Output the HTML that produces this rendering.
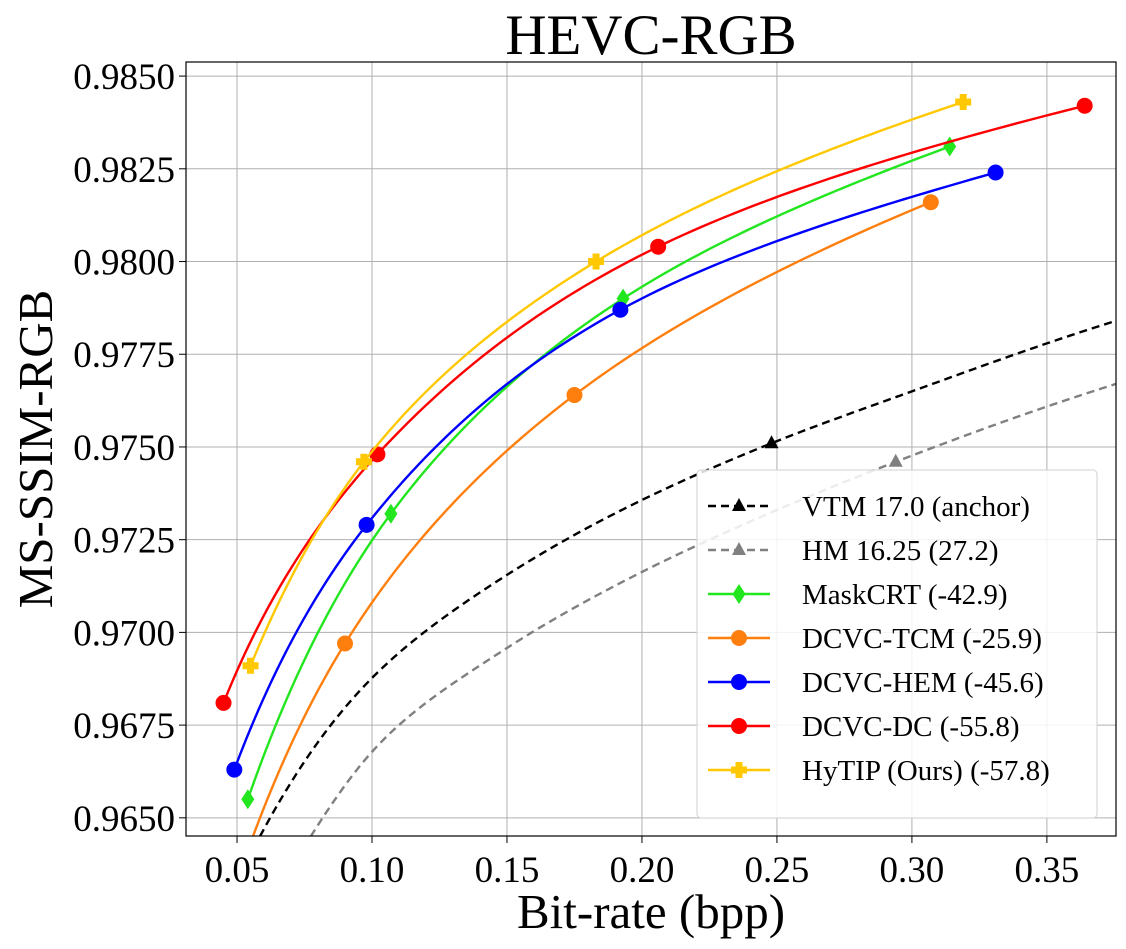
<!DOCTYPE html>
<html><head><meta charset="utf-8"><style>
body{margin:0;background:#fff;}
svg text{font-family:"Liberation Serif",serif;fill:#000;}
</style></head><body>
<svg id="chart" width="1126" height="944" xmlns="http://www.w3.org/2000/svg">
<g id="grid"></g>
<g id="series"></g>
<g id="axes"></g>
<text x="651" y="54" font-size="57" text-anchor="middle">HEVC-RGB</text>
<text x="651" y="928" font-size="49" text-anchor="middle">Bit-rate (bpp)</text>
<text transform="translate(52,449) rotate(-90)" font-size="49" text-anchor="middle">MS-SSIM-RGB</text>
<g id="legend"></g>
</svg>
<script>
const xTicks=[0.05,0.10,0.15,0.20,0.25,0.30,0.35];
const yTicks=[0.9650,0.9675,0.9700,0.9725,0.9750,0.9775,0.9800,0.9825,0.9850];
const seriesNames=["VTM 17.0 (anchor)","HM 16.25 (27.2)","MaskCRT (-42.9)","DCVC-TCM (-25.9)","DCVC-HEM (-45.6)","DCVC-DC (-55.8)","HyTIP (Ours) (-57.8)"];
const vtmX=[0.248]; const vtmY=[0.9751];
const vtmCurveX=[0.0585,0.10,0.15,0.20,0.248,0.30,0.38]; const vtmCurveY=[0.9645,0.96877,0.97155,0.97357,0.9751,0.9765,0.9785];
const hmX=[0.294]; const hmY=[0.9746];
const hmCurveX=[0.0773,0.10,0.15,0.20,0.25,0.294,0.38]; const hmCurveY=[0.9645,0.96678,0.96958,0.97163,0.9733,0.9746,0.9768];
const maskX=[0.054,0.107,0.193,0.314]; const maskY=[0.9655,0.9732,0.9790,0.9831];
const tcmX=[0.090,0.175,0.307]; const tcmY=[0.9697,0.9764,0.9816];
const tcmCurveX=[0.0559,0.090,0.175,0.307]; const tcmCurveY=[0.9645,0.9697,0.9764,0.9816];
const hemX=[0.049,0.098,0.192,0.331]; const hemY=[0.9663,0.9729,0.9787,0.9824];
const dcX=[0.045,0.102,0.206,0.364]; const dcY=[0.9681,0.9748,0.9804,0.9842];
const hyX=[0.055,0.097,0.183,0.319]; const hyY=[0.9691,0.9746,0.9800,0.9843];

const L=186,R=1116,T=62,B=836;
const x0=0.0311,x1=0.3756,y0=0.96451,y1=0.98538;
const sx=v=>L+(v-x0)/(x1-x0)*(R-L);
const sy=v=>B-(v-y0)/(y1-y0)*(B-T);
const NS="http://www.w3.org/2000/svg";
function mk(tag,attrs,parent){const e=document.createElementNS(NS,tag);for(const k in attrs)e.setAttribute(k,attrs[k]);parent.appendChild(e);return e;}
const grid=document.getElementById('grid'),axes=document.getElementById('axes'),ser=document.getElementById('series'),leg=document.getElementById('legend');
xTicks.forEach(t=>{const x=sx(t);
 const g=mk('line',{x1:x,x2:x,y1:T,y2:B,stroke:'#b0b0b0','stroke-width':1},grid);
 
 
 mk('line',{x1:x,x2:x,y1:B,y2:B+7,stroke:'#000','stroke-width':1},axes);
 const tx=mk('text',{x:x,y:B+46,'font-size':37,'text-anchor':'middle'},axes);tx.textContent=t.toFixed(2);
 
 
});
yTicks.forEach(t=>{const y=sy(t);
 const g=mk('line',{x1:L,x2:R,y1:y,y2:y,stroke:'#b0b0b0','stroke-width':1},grid);
 
 
 mk('line',{x1:L-7,x2:L,y1:y,y2:y,stroke:'#000','stroke-width':1},axes);
 const tx=mk('text',{x:L-11,y:y+13,'font-size':37,'text-anchor':'end'},axes);tx.textContent=t.toFixed(4);
 
 
});
mk('rect',{x:L,y:T,width:R-L,height:B-T,fill:'none',stroke:'#000','stroke-width':1.2},axes);

// smooth Hermite curve in log-rate space
function pathD(xd,ys){
 const xs=xd.map(Math.log);
 const n=xs.length,m=[];
 const s=[];for(let i=0;i<n-1;i++)s.push((ys[i+1]-ys[i])/(xs[i+1]-xs[i]));
 for(let i=0;i<n;i++){
  if(i===0)m.push(s[0]);
  else if(i===n-1)m.push(s[n-2]);
  else{const h0=xs[i]-xs[i-1],h1=xs[i+1]-xs[i];m.push((s[i-1]*h1+s[i]*h0)/(h0+h1));}
 }
 let d='M'+sx(xd[0])+','+sy(ys[0]);
 for(let i=0;i<n-1;i++){
  const h=xs[i+1]-xs[i];
  for(let k=1;k<=40;k++){
   const t=k/40,t2=t*t,t3=t2*t;
   const y=(2*t3-3*t2+1)*ys[i]+(t3-2*t2+t)*h*m[i]+(-2*t3+3*t2)*ys[i+1]+(t3-t2)*h*m[i+1];
   d+=' L'+sx(Math.exp(xs[i]+t*h)).toFixed(2)+','+sy(y).toFixed(2);
  }
 }
 return d;
}
function marker(type,x,y,color,parent,s){
 s=s||1;
 if(type==='tri') return mk('polygon',{points:`${x},${y-8*s} ${x-7*s},${y+5*s} ${x+7*s},${y+5*s}`,fill:color},parent);
 if(type==='dia') return mk('polygon',{points:`${x},${y-10*s} ${x-6.5*s},${y} ${x},${y+10*s} ${x+6.5*s},${y}`,fill:color},parent);
 if(type==='circ') return mk('circle',{cx:x,cy:y,r:8*s,fill:color},parent);
 if(type==='plus'){const a=3.5*s,b=8*s;return mk('polygon',{points:`${x-a},${y-b} ${x+a},${y-b} ${x+a},${y-a} ${x+b},${y-a} ${x+b},${y+a} ${x+a},${y+a} ${x+a},${y+b} ${x-a},${y+b} ${x-a},${y+a} ${x-b},${y+a} ${x-b},${y-a} ${x-a},${y-a}`,fill:color},parent);}
}
const defs=[
 {cx:vtmCurveX,cy:vtmCurveY,mx:vtmX,my:vtmY,c:'#000',m:'tri',dash:'8,5'},
 {cx:hmCurveX,cy:hmCurveY,mx:hmX,my:hmY,c:'#808080',m:'tri',dash:'8,5'},
 {cx:maskX,cy:maskY,mx:maskX,my:maskY,c:'#22e61e',m:'dia'},
 {cx:tcmCurveX,cy:tcmCurveY,mx:tcmX,my:tcmY,c:'#ff7f0e',m:'circ'},
 {cx:hemX,cy:hemY,mx:hemX,my:hemY,c:'#0000ff',m:'circ'},
 {cx:dcX,cy:dcY,mx:dcX,my:dcY,c:'#ff0000',m:'circ'},
 {cx:hyX,cy:hyY,mx:hyX,my:hyY,c:'#ffc800',m:'plus'}
];
const clip=mk('clipPath',{id:'pc'},document.getElementById('chart'));
mk('rect',{x:L,y:T,width:R-L,height:B-T},clip);
ser.setAttribute('clip-path','url(#pc)');
defs.forEach((s,i)=>{
 const g=mk('g',{},ser);
 
 
 const p=mk('path',{d:pathD(s.cx,s.cy),fill:'none',stroke:s.c,'stroke-width':2.4},g);
 if(s.dash)p.setAttribute('stroke-dasharray',s.dash);
 s.mx.forEach((x,j)=>{const m=marker(s.m,sx(x),sy(s.my[j]),s.c,g);
  
  });
});
mk('rect',{x:697,y:470,width:400,height:348,rx:4,fill:'#fff','fill-opacity':0.85,stroke:'#d0d0d0','stroke-width':1},leg);
defs.forEach((s,i)=>{
 const y=506+i*44;
 const g=mk('g',{},leg);
 
 
 const l=mk('line',{x1:708,x2:770,y1:y,y2:y,stroke:s.c,'stroke-width':2.4},g);
 if(s.dash)l.setAttribute('stroke-dasharray',s.dash);
 marker(s.m,739,y,s.c,g);
 const t=mk('text',{x:802,y:y+10,'font-size':29},g);t.textContent=seriesNames[i];
});
</script>
</body></html>
